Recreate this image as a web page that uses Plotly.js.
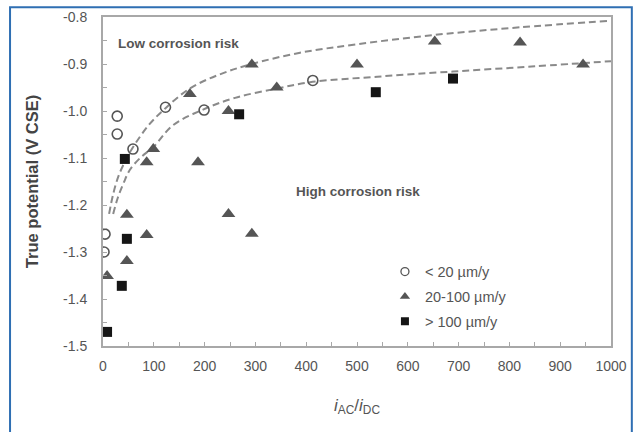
<!DOCTYPE html>
<html>
<head>
<meta charset="utf-8">
<script src="https://cdn.plot.ly/plotly-3.0.1.min.js"></script>
<style>
html,body{margin:0;padding:0;background:#fff;}
#chart{width:638px;height:432px;}
</style>
</head>
<body>
<div id="chart"></div>
<script>
// Data
const lowRateX = [2, 4, 28, 28, 59, 123, 199, 413];
const lowRateY = [-1.30, -1.262, -1.011, -1.049, -1.081, -0.992, -0.998, -0.935];

const midRateX = [8, 47, 47, 86, 86, 99, 171, 187, 247, 247, 293, 293, 342, 500, 653, 821, 945];
const midRateY = [-1.351, -1.319, -1.221, -1.264, -1.109, -1.081, -0.964, -1.109, -1.0, -1.219, -0.901, -1.261, -0.95, -0.901, -0.852, -0.854, -0.901];

const highRateX = [8, 37, 43, 47, 268, 537, 689];
const highRateY = [-1.47, -1.372, -1.102, -1.272, -1.007, -0.96, -0.931];

// Dashed boundary curves
const upperCurveX = [12, 20, 31, 47, 59, 90, 122, 171, 230, 293, 388, 500, 654, 820, 1000];
const upperCurveY = [-1.219, -1.177, -1.137, -1.100, -1.077, -1.030, -0.995, -0.952, -0.922, -0.900, -0.876, -0.858, -0.838, -0.822, -0.808];
const lowerCurveX = [20, 29, 41, 53, 75, 99, 138, 197, 260, 343, 413, 540, 689, 850, 1000];
const lowerCurveY = [-1.219, -1.185, -1.152, -1.125, -1.098, -1.077, -1.030, -0.997, -0.972, -0.952, -0.938, -0.927, -0.916, -0.905, -0.894];

const seriesNames = ['&lt; 20 µm/y', '20-100 µm/y', '&gt; 100 µm/y'];
const xTickVals = [0,100,200,300,400,500,600,700,800,900,1000];
const yTickVals = [-1.5,-1.4,-1.3,-1.2,-1.1,-1.0,-0.9,-0.8];
const yTickText = ['-1.5','-1.4','-1.3','-1.2','-1.1','-1.0','-0.9','-0.8'];

const grey = '#555555';
const font = 'Liberation Sans, Arial, sans-serif';

const curveStyle = {color:'#8a8a8a', width:2, dash:'7px,4px', shape:'spline', smoothing:1};

const circleMarker = {symbol:'circle-open', color:grey, line:{width:1.6, color:grey}};
const triMarker = {symbol:'triangle-up', color:'#555555', line:{width:0}};
const sqMarker = {symbol:'square', color:'#151515', line:{width:0}};

const traces = [
  {x: upperCurveX, y: upperCurveY, mode:'lines', line: curveStyle, showlegend:false, hoverinfo:'skip'},
  {x: lowerCurveX, y: lowerCurveY, mode:'lines', line: curveStyle, showlegend:false, hoverinfo:'skip'},
  {x: lowRateX, y: lowRateY, mode:'markers', showlegend:false, marker:Object.assign({size:10}, circleMarker)},
  {x: midRateX, y: midRateY, mode:'markers', showlegend:false, marker:Object.assign({size:12}, triMarker)},
  {x: highRateX, y: highRateY, mode:'markers', showlegend:false, marker:Object.assign({size:10}, sqMarker)},
  // legend entries (smaller symbols, as in the reference legend)
  {x:[null], y:[null], mode:'markers', name:seriesNames[0], legendgroup:'a', marker:Object.assign({size:8}, circleMarker, {line:{width:1.3, color:grey}})},
  {x:[null], y:[null], mode:'markers', name:seriesNames[1], legendgroup:'b', marker:Object.assign({size:9}, triMarker)},
  {x:[null], y:[null], mode:'markers', name:seriesNames[2], legendgroup:'c', marker:Object.assign({size:8}, sqMarker)}
];

const layout = {
  width:638, height:432,
  margin:{l:103, r:27, t:17, b:86},
  paper_bgcolor:'#ffffff', plot_bgcolor:'#ffffff',
  font:{family:font, color:'#444'},
  showlegend:true,
  legend:{x:0.555, xanchor:'left', y:0.15, yanchor:'middle', bgcolor:'rgba(0,0,0,0)',
          font:{size:14.5, color:'#555', family:font}, tracegroupgap:3, itemwidth:30},
  xaxis:{
    range:[0,1000], tickvals:xTickVals, showgrid:false, zeroline:false,
    showline:true, linecolor:'#a8a8a8', linewidth:2, mirror:true,
    ticks:'inside', ticklen:4, tickcolor:'#a8a8a8', ticklabelstandoff:6,
    minor:{dtick:50, ticks:'inside', ticklen:4, tickcolor:'#a8a8a8', showgrid:false},
    tickfont:{size:14, color:'#555', family:font},
    title:{text:'<i>i</i><sub>AC</sub>/<i>i</i><sub>DC</sub>', font:{size:17, color:'#555', family:font}, standoff:26}
  },
  yaxis:{
    range:[-1.5,-0.8], tickvals:yTickVals, ticktext:yTickText, showgrid:false, zeroline:false,
    showline:true, linecolor:'#a8a8a8', linewidth:2, mirror:true,
    ticks:'inside', ticklen:4, tickcolor:'#a8a8a8', ticklabelstandoff:11,
    minor:{dtick:0.05, ticks:'inside', ticklen:4, tickcolor:'#a8a8a8', showgrid:false},
    tickfont:{size:14, color:'#555', family:font},
    title:{text:'<b>True potential (V CSE)</b>', font:{size:16.5, color:'#444', family:font}, standoff:20}
  },
  annotations:[
    {xref:'paper', yref:'paper', x:0.026, y:0.92, xanchor:'left', yanchor:'middle', showarrow:false,
     text:'<b>Low corrosion risk</b>', font:{size:13.5, color:'#555', family:font}},
    {xref:'paper', yref:'paper', x:0.375, y:0.47, xanchor:'left', yanchor:'middle', showarrow:false,
     text:'<b>High corrosion risk</b>', font:{size:13.5, color:'#555', family:font}}
  ],
  shapes:[
    {type:'rect', xref:'paper', yref:'paper', x0:-0.183, x1:1.041, y0:-0.4, y1:1.03,
     line:{color:'#2f6fb3', width:2}, fillcolor:'rgba(0,0,0,0)', layer:'below'}
  ]
};

Plotly.newPlot('chart', traces, layout, {displayModeBar:false, staticPlot:true});
</script>
</body>
</html>
